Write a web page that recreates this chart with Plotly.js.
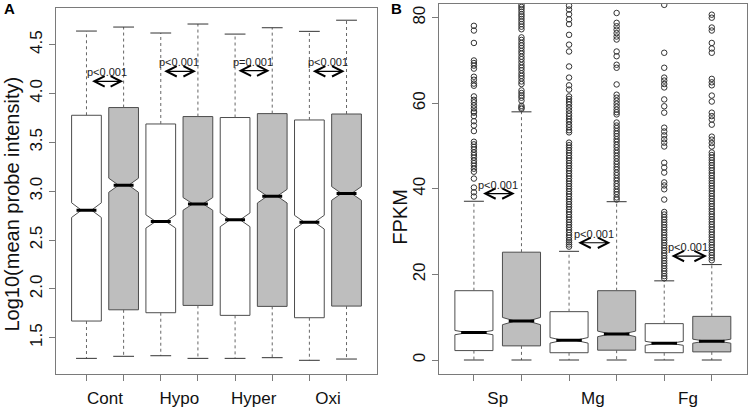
<!DOCTYPE html>
<html><head><meta charset="utf-8">
<script src="https://cdn.plot.ly/plotly-3.0.1.min.js"></script>
<style>html,body{margin:0;padding:0;background:#fff}#chart{width:752px;height:413px}</style>
</head><body><div id="chart"></div>
<script>
// ---------------- Panel A data ----------------
const groupsA = ['Cont','Hypo','Hyper','Oxi'];
const aWhiteQ1  = [1.671,1.756,1.729,1.705];
const aWhiteMed = [2.806,2.690,2.707,2.683];
const aWhiteQ3  = [3.777,3.688,3.754,3.729];
const aWhiteLo  = [1.289,1.316,1.289,1.269];
const aWhiteHi  = [4.639,4.619,4.608,4.636];
const aWhiteNotch = [0.075,0.068,0.070,0.070];
const aGreyQ1  = [1.786,1.831,1.821,1.824];
const aGreyMed = [3.061,2.870,2.949,2.977];
const aGreyQ3  = [3.856,3.764,3.794,3.790];
const aGreyLo  = [1.310,1.289,1.296,1.282];
const aGreyHi  = [4.680,4.711,4.673,4.750];
const aGreyNotch = [0.072,0.065,0.070,0.070];
const pLabelsA = ['p<0.001','p<0.001','p=0.001','p<0.001'];
const pArrowYA = [4.124,4.227,4.234,4.227];

// ---------------- Panel B data ----------------
const groupsB = ['Sp','Mg','Fg'];
const bWhiteQ1  = [2.2,1.7,1.7];
const bWhiteMed = [6.4,4.6,3.9];
const bWhiteQ3  = [16.2,11.3,8.5];
const bWhiteLo  = [0,0,0];
const bWhiteHi  = [37.1,25.4,18.5];
const bWhiteNotch = [0.5,0.65,0.47];
const bGreyQ1  = [3.3,2.3,1.9];
const bGreyMed = [9.1,6.1,4.4];
const bGreyQ3  = [25.2,16.2,10.2];
const bGreyLo  = [0,0,0];
const bGreyHi  = [58.0,37.0,22.3];
const bGreyNotch = [0.85,0.65,0.47];
const pLabelsB = ['p<0.001','p<0.001','p<0.001'];
const pArrowYB = [38.9,27.4,24.3];

// outliers (FPKM) (values above the axis top are clipped)
const outSpWhite = [78.1,77.0,74.1,70.0,69.4,68.8,68.1,66.2,65.5,64.6,64.1,61.6,60.8,60.2,59.5,58.8,58.1,57.8,57.0,55.8,54.8,53.5,51.0,50.4,49.8,49.2,48.5,47.9,47.3,46.6,46.0,45.4,44.7,44.0,42.4,40.3,39.2,38.2];
const outSpGrey = [83.0,82.5,82.0,81.4,80.8,80.3,79.7,79.1,78.5,77.9,77.3,75.4,74.8,74.1,73.5,72.9,72.2,71.6,70.9,70.3,69.6,68.9,68.3,67.7,67.0,66.4,65.8,65.1,64.5,63.0,62.4,61.8,61.3,60.6,59.4,59.0,58.7];
const outMgWhite = [82.8,81.9,80.8,79.6,78.5,76.0,73.7,72.1,68.6,66.0,64.2,63.2,61.6,61.0,60.3,59.7,59.0,58.3,57.6,57.0,56.3,55.7,55.0,54.4,53.7,53.2,50.8,50.2,49.6,49.0,48.4,47.8,47.2,46.6,46.0,45.4,44.8,44.2,43.6,43.0,42.4,41.8,41.2,40.6,40.0,39.4,38.8,38.2,37.6,37.0,36.4,35.8,35.2,34.6,34.0,33.4,32.8,32.2,31.6,31.0,30.4,29.8,29.2,28.6,28.0,27.5,27.0,26.5];
const outMgGrey = [81.1,78.8,78.0,77.2,76.4,75.6,74.9,72.1,71.0,69.0,68.3,64.4,62.0,61.3,60.6,59.9,59.2,58.5,57.9,57.4,55.5,54.8,54.2,53.5,52.9,52.3,51.6,51.0,50.3,49.7,49.0,48.4,47.7,47.1,46.4,45.8,45.1,44.5,43.8,43.2,42.5,41.9,41.2,40.6,39.9,39.3,38.7,38.0,37.5];
const outFgWhite = [83.0,71.8,68.3,66.0,65.3,64.5,63.7,60.9,59.3,57.8,54.3,53.4,52.5,51.6,50.8,49.9,46.1,45.0,43.8,41.5,40.8,39.9,37.5,34.6,34.0,33.4,32.8,32.2,31.6,31.0,30.4,29.8,29.2,28.6,28.0,27.4,26.8,26.2,25.6,25.0,24.4,23.8,23.2,22.6,22.0,21.4,20.8,20.2,19.6,19.1];
const outFgGrey = [80.7,80.0,77.7,77.0,74.1,72.8,71.8,65.7,64.9,64.2,61.8,60.4,57.8,57.0,56.2,55.0,52.2,51.5,50.7,49.9,48.5,47.9,47.3,46.7,46.1,45.5,44.9,44.3,43.7,43.1,42.5,41.9,41.3,40.7,40.1,39.5,38.9,38.3,37.7,37.1,36.5,35.9,35.3,34.7,34.1,33.5,32.9,32.3,31.7,31.1,30.5,29.9,29.3,28.7,28.1,27.5,26.9,26.3,25.7,25.1,24.5,23.9,23.3];
const outWhiteB = [outSpWhite,outMgWhite,outFgWhite];
const outGreyB  = [outSpGrey,outMgGrey,outFgGrey];

// ---------------- styling ----------------
const W = 752, H = 413;
const FONT = 'Liberation Sans, Arial, Helvetica, sans-serif';
const BOXW = 0.8, NOTCHW = 0.33;
const OUTLINE = '#4d4d4d', GREY = '#bebebe', FRAME = '#7a7a7a', WHISK = '#666';

const traces = [];
function boxTrace(xa, ya, pos, q1, med, q3, notch, fill){
  return {type:'box', xaxis:xa, yaxis:ya, x:pos, q1:q1, median:med, q3:q3,
    lowerfence:q1, upperfence:q3, notched:true, notchspan:notch, notchwidth:NOTCHW,
    width:BOXW, whiskerwidth:0, boxpoints:false, fillcolor:fill,
    line:{color:OUTLINE, width:1}, hoverinfo:'skip', showlegend:false};
}
function extras(xa, ya, pos, q1, med, q3, lo, hi, capHalf){
  const wx=[], wy=[], cx=[], cy=[], mx=[], my=[];
  const mh = BOXW/2*(1-NOTCHW);
  pos.forEach((p,i)=>{
    wx.push(p,p,null,p,p,null); wy.push(q3[i],hi[i],null,q1[i],lo[i],null);
    cx.push(p-capHalf,p+capHalf,null,p-capHalf,p+capHalf,null); cy.push(hi[i],hi[i],null,lo[i],lo[i],null);
    mx.push(p-mh,p+mh,null); my.push(med[i],med[i],null);
  });
  traces.push({type:'scatter', mode:'lines', xaxis:xa, yaxis:ya, x:wx, y:wy,
    line:{color:WHISK, width:1, dash:'3px,3px'}, hoverinfo:'skip', showlegend:false});
  traces.push({type:'scatter', mode:'lines', xaxis:xa, yaxis:ya, x:cx, y:cy,
    line:{color:'#333', width:1}, hoverinfo:'skip', showlegend:false});
  traces.push({type:'scatter', mode:'lines', xaxis:xa, yaxis:ya, x:mx, y:my,
    line:{color:'#000', width:3}, hoverinfo:'skip', showlegend:false});
}

// Panel A
const posAW = groupsA.map((g,i)=>2*i+1), posAG = groupsA.map((g,i)=>2*i+2);
traces.push(boxTrace('x','y',posAW,aWhiteQ1,aWhiteMed,aWhiteQ3,aWhiteNotch,'#ffffff'));
traces.push(boxTrace('x','y',posAG,aGreyQ1,aGreyMed,aGreyQ3,aGreyNotch,GREY));
extras('x','y',posAW,aWhiteQ1,aWhiteMed,aWhiteQ3,aWhiteLo,aWhiteHi,0.28);
extras('x','y',posAG,aGreyQ1,aGreyMed,aGreyQ3,aGreyLo,aGreyHi,0.28);

// Panel B
const posBW = groupsB.map((g,i)=>2*i+1), posBG = groupsB.map((g,i)=>2*i+2);
traces.push(boxTrace('x2','y2',posBW,bWhiteQ1,bWhiteMed,bWhiteQ3,bWhiteNotch,'#ffffff'));
traces.push(boxTrace('x2','y2',posBG,bGreyQ1,bGreyMed,bGreyQ3,bGreyNotch,GREY));
extras('x2','y2',posBW,bWhiteQ1,bWhiteMed,bWhiteQ3,bWhiteLo,bWhiteHi,0.21);
extras('x2','y2',posBG,bGreyQ1,bGreyMed,bGreyQ3,bGreyLo,bGreyHi,0.21);
const ox=[], oy=[];
groupsB.forEach((g,i)=>{
  outWhiteB[i].forEach(v=>{ox.push(posBW[i]); oy.push(v);});
  outGreyB[i].forEach(v=>{ox.push(posBG[i]); oy.push(v);});
});
traces.push({type:'scatter', mode:'markers', xaxis:'x2', yaxis:'y2', x:ox, y:oy, cliponaxis:true,
  marker:{symbol:'circle-open', size:5.5, color:'#333', line:{width:1}}, hoverinfo:'skip', showlegend:false});

// annotations
const ann = [];
function arrows(xa, ya, posW, yv, labels, x0off, x1offs){
  posW.forEach((p,i)=>{
    const a = p + x0off[i], b = p + x1offs[i];
    ann.push({xref:xa, yref:ya, axref:xa, ayref:ya, x:b, y:yv[i], ax:a, ay:yv[i], text:'',
      showarrow:true, arrowhead:5, startarrowhead:5, arrowside:'end+start', arrowsize:1.7, startarrowsize:1.7,
      arrowwidth:1.2, arrowcolor:'#000'});
    ann.push({xref:xa, yref:ya, x:(a+b)/2, y:yv[i], yshift:9, text:labels[i], showarrow:false,
      font:{family:FONT, size:11, color:'#222'}});
  });
}
arrows('x','y',posAW,pArrowYA,pLabelsA,[0.11,0.05,0.05,0.05],[0.99,0.95,0.93,0.95]);
arrows('x2','y2',posBW,pArrowYB,pLabelsB,[0.16,0.16,0.12],[0.86,0.87,0.90]);
ann.push({xref:'paper', yref:'paper', x:12/W, y:1-204.5/H, xanchor:'center', yanchor:'middle', textangle:-90,
  text:'Log10(mean probe intensity)', showarrow:false, font:{family:FONT, size:20, color:'#111'}});
ann.push({xref:'paper', yref:'paper', x:400/W, y:1-216.7/H, xanchor:'center', yanchor:'middle', textangle:-90,
  text:'FPKM', showarrow:false, font:{family:FONT, size:20, color:'#111'}});
ann.push({xref:'paper', yref:'paper', x:9/W, y:1-8.5/H, xanchor:'center', yanchor:'middle',
  text:'<b>A</b>', showarrow:false, font:{family:FONT, size:15, color:'#000'}});
ann.push({xref:'paper', yref:'paper', x:396.5/W, y:1-8.5/H, xanchor:'center', yanchor:'middle',
  text:'<b>B</b>', showarrow:false, font:{family:FONT, size:15, color:'#000'}});

const tickFont = {family:FONT, size:17, color:'#111'};
function xAxis(dom, range, groups, n, anchor){
  return {domain:dom, range:range, anchor:anchor, tickmode:'array',
    tickvals:groups.map((g,i)=>2*i+1.5), ticktext:groups,
    ticks:'outside', ticklen:6, tickcolor:'rgba(0,0,0,0)', ticklabelstandoff:3,
    minor:{tickmode:'array', tickvals:Array.from({length:n},(v,i)=>i+1), ticks:'outside', ticklen:6, tickcolor:FRAME, tickwidth:1, showgrid:false},
    showline:true, mirror:true, linecolor:FRAME, linewidth:1, showgrid:false, zeroline:false,
    tickfont:tickFont, fixedrange:true};
}
function yAxis(dom, range, tick0, dtick, fmt, anchor){
  return {domain:dom, range:range, anchor:anchor, tick0:tick0, dtick:dtick, tickformat:fmt,
    ticks:'outside', ticklen:6, tickcolor:FRAME, tickangle:-90,
    showline:true, mirror:true, linecolor:FRAME, linewidth:1, showgrid:false, zeroline:false,
    tickfont:tickFont, fixedrange:true};
}

const layout = {
  width:W, height:H, margin:{l:0,r:0,t:0,b:0}, paper_bgcolor:'#fff', plot_bgcolor:'#fff',
  showlegend:false, boxmode:'overlay', font:{family:FONT},
  xaxis: xAxis([56/W, 377/W], [0.18, 8.82], groupsA, 8, 'y'),
  yaxis: yAxis([1-373.7/H, 1-8/H], [1.132, 4.875], 1.5, 0.5, '.1f', 'x'),
  xaxis2: xAxis([438.7/W, 747/W], [0.26, 6.74], groupsB, 6, 'y2'),
  yaxis2: yAxis([1-373.7/H, 1-4/H], [-3.2, 83.2], 0, 20, '', 'x2'),
  annotations: ann
};
Plotly.newPlot('chart', traces, layout, {staticPlot:true, displayModeBar:false});
</script></body></html>
